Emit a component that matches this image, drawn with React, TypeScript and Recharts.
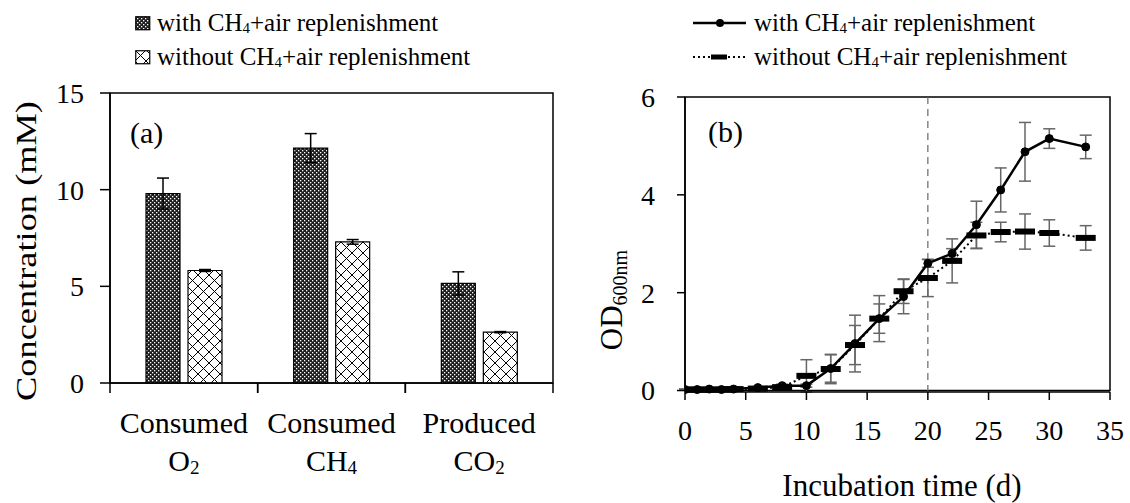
import React from "react"
import {
  Bar,
  BarChart,
  ErrorBar,
  Label,
  Line,
  LineChart,
  ReferenceArea,
  ReferenceLine,
  XAxis,
  YAxis,
} from "recharts"

const FONT = "'Liberation Serif', 'Times New Roman', serif"

// (a) gas consumption / production
const gasPrefix = ["Consumed", "Consumed", "Produced"]
const gasBase = ["O", "CH", "CO"]
const gasSub = ["2", "4", "2"]
const gasWith = [9.8, 12.15, 5.15]
const gasWithErr = [0.8, 0.75, 0.6]
const gasWithout = [5.82, 7.3, 2.63]
const gasWithoutErr = [0.05, 0.12, 0.03]
const gasTicks = [0, 5, 10, 15]

// (b) growth curve
const days = [0, 1, 2, 3, 4, 6, 8, 10, 12, 14, 16, 18, 20, 22, 24, 26, 28, 30, 33]
const odWith = [0.02, 0.02, 0.03, 0.02, 0.03, 0.06, 0.1, 0.1, 0.45, 0.96, 1.47, 1.92, 2.6, 2.8, 3.39, 4.1, 4.88, 5.15, 4.98]
const odWithErr = [0.01, 0.01, 0.01, 0.01, 0.01, 0.02, 0.03, 0.03, 0.28, 0.58, 0.47, 0.35, 0.08, 0.1, 0.48, 0.45, 0.6, 0.2, 0.24]
const odWithout = [0.02, 0.02, 0.02, 0.02, 0.03, 0.04, 0.07, 0.3, 0.44, 0.93, 1.47, 2.03, 2.3, 2.65, 3.17, 3.24, 3.25, 3.22, 3.12]
const odWithoutErr = [0.01, 0.01, 0.01, 0.01, 0.01, 0.02, 0.03, 0.33, 0.3, 0.4, 0.3, 0.25, 0.38, 0.45, 0.27, 0.2, 0.36, 0.27, 0.25]
const dayTicks = [0, 5, 10, 15, 20, 25, 30, 35]
const odTicks = [0, 2, 4, 6]

const gasData = gasBase.map((b, i) => ({
  name: b + gasSub[i],
  with: gasWith[i],
  withErr: gasWithErr[i],
  without: gasWithout[i],
  withoutErr: gasWithoutErr[i],
}))

const odData = days.map((d, i) => ({
  day: d,
  with: odWith[i],
  withErr: odWithErr[i],
  without: odWithout[i],
  withoutErr: odWithoutErr[i],
}))

const tickStyle = { fontSize: 28, fill: "#000", fontFamily: FONT }

function Patterns({ prefix }: { prefix: string }) {
  return (
    <defs>
      <pattern id={prefix + "-dense"} width="4" height="4" patternUnits="userSpaceOnUse">
        <rect width="4" height="4" fill="#1e1e1e" />
        <rect x="0" y="0" width="1.3" height="1.3" fill="#fff" />
        <rect x="2" y="2" width="1.3" height="1.3" fill="#fff" />
      </pattern>
      <pattern id={prefix + "-cross"} width="11" height="11" patternUnits="userSpaceOnUse">
        <rect width="11" height="11" fill="#fff" />
        <path d="M0,0 L11,11 M11,0 L0,11" stroke="#000" strokeWidth="1" />
      </pattern>
    </defs>
  )
}

function GasTick({ x, y, payload }: any) {
  const half = payload?.offset ?? 74
  const i = gasData.findIndex((d) => d.name === payload.value)
  return (
    <g>
      <line x1={x - half} x2={x - half} y1={y} y2={y + 10} stroke="#000" strokeWidth={1.5} />
      <line x1={x + half} x2={x + half} y1={y} y2={y + 10} stroke="#000" strokeWidth={1.5} />
      <text x={x} y={y + 50} textAnchor="middle" fontSize={30} fontFamily={FONT} fill="#000">
        {gasPrefix[i]}
      </text>
      <text x={x} y={y + 88} textAnchor="middle" fontSize={30} fontFamily={FONT} fill="#000">
        {gasBase[i]}
        <tspan fontSize={19} dy={3}>{gasSub[i]}</tspan>
      </text>
    </g>
  )
}

function DashDot({ cx, cy }: any) {
  if (cx == null || cy == null) return null
  return <rect x={cx - 10} y={cy - 3} width={20} height={6} fill="#000" />
}

function LegendA() {
  const row = (id: string, top: number, text: string) => (
    <div style={{ position: "absolute", left: 135, top, display: "flex", alignItems: "center", height: 30 }}>
      <svg width={16} height={15} style={{ marginRight: 6 }}>
        <Patterns prefix={"lg" + id} />
        <rect x={0.75} y={0.75} width={14} height={13} fill={`url(#lg${id}-${id})`} stroke="#000" strokeWidth={1.2} />
      </svg>
      <span style={{ fontFamily: FONT, fontSize: 25, color: "#000", whiteSpace: "nowrap" }}>
        {text} CH<span style={{ fontSize: 15, verticalAlign: "-2px" }}>4</span>+air replenishment
      </span>
    </div>
  )
  return (
    <>
      {row("dense", 8, "with")}
      {row("cross", 42, "without")}
    </>
  )
}

function LegendB() {
  return (
    <>
      <div style={{ position: "absolute", left: 693, top: 8, display: "flex", alignItems: "center", height: 30 }}>
        <svg width={55} height={12} style={{ marginRight: 6 }}>
          <line x1={0} x2={53} y1={6} y2={6} stroke="#000" strokeWidth={2.5} />
          <circle cx={27} cy={6} r={4} fill="#000" />
        </svg>
        <span style={{ fontFamily: FONT, fontSize: 25, color: "#000", whiteSpace: "nowrap" }}>
          with CH<span style={{ fontSize: 15, verticalAlign: "-2px" }}>4</span>+air replenishment
        </span>
      </div>
      <div style={{ position: "absolute", left: 693, top: 42, display: "flex", alignItems: "center", height: 30 }}>
        <svg width={55} height={12} style={{ marginRight: 6 }}>
          <line x1={0} x2={55} y1={6} y2={6} stroke="#000" strokeWidth={2} strokeDasharray="2 3" />
          <rect x={18} y={3.5} width={16} height={5} fill="#000" />
        </svg>
        <span style={{ fontFamily: FONT, fontSize: 25, color: "#000", whiteSpace: "nowrap" }}>
          without CH<span style={{ fontSize: 15, verticalAlign: "-2px" }}>4</span>+air replenishment
        </span>
      </div>
    </>
  )
}

function GasChart() {
  return (
    <BarChart
      width={580}
      height={503}
      data={gasData}
      margin={{ top: 93, right: 27, bottom: 20, left: 50 }}
      barCategoryGap={36}
      barGap={8}
    >
      <Patterns prefix="a" />
      <XAxis
        dataKey="name"
        height={100}
        tickLine={false}
        tickSize={0}
        tickMargin={0}
        axisLine={{ stroke: "#000", strokeWidth: 1.5 }}
        tick={<GasTick />}
        interval={0}
      />
      <YAxis
        width={60}
        domain={[0, 15]}
        ticks={gasTicks}
        tick={tickStyle}
        tickSize={10}
        tickMargin={16}
        tickLine={{ stroke: "#000", strokeWidth: 1.5 }}
        axisLine={{ stroke: "#000", strokeWidth: 1.5 }}
      >
        <Label
          content={() => (
            <text
              x={36}
              y={251}
              transform="rotate(-90, 36, 251)"
              textAnchor="middle"
              fontSize={30}
              fontFamily={FONT}
              fill="#000"
              textLength={300}
              lengthAdjust="spacingAndGlyphs"
            >
              Concentration (mM)
            </text>
          )}
        />
      </YAxis>
      <ReferenceArea y1={0} y2={15} fill="none" stroke="#000" strokeWidth={1.5} ifOverflow="visible">
        <Label
          content={({ viewBox }: any) => (
            <text x={viewBox.x + 20} y={viewBox.y + 50} fontSize={30} fontFamily={FONT} fill="#000">
              (a)
            </text>
          )}
        />
      </ReferenceArea>
      <Bar dataKey="with" fill="url(#a-dense)" stroke="#000" strokeWidth={1.2} isAnimationActive={false}>
        <ErrorBar dataKey="withErr" width={6} stroke="#000" strokeWidth={1.5} direction="y" />
      </Bar>
      <Bar dataKey="without" fill="url(#a-cross)" stroke="#000" strokeWidth={1.2} isAnimationActive={false}>
        <ErrorBar dataKey="withoutErr" width={6} stroke="#000" strokeWidth={1.5} direction="y" />
      </Bar>
    </BarChart>
  )
}

function GrowthChart() {
  return (
    <LineChart
      width={570}
      height={503}
      data={odData}
      margin={{ top: 97, right: 20, bottom: 51, left: 65 }}
    >
      <XAxis
        dataKey="day"
        type="number"
        domain={[0, 35]}
        ticks={dayTicks}
        height={60}
        tick={tickStyle}
        tickSize={8}
        tickMargin={20}
        tickLine={{ stroke: "#000", strokeWidth: 1.5 }}
        axisLine={{ stroke: "#000", strokeWidth: 1.5 }}
        allowDataOverflow
      >
        <Label
          content={() => (
            <text x={342} y={496} textAnchor="middle" fontSize={31} fontFamily={FONT} fill="#000">
              Incubation time (d)
            </text>
          )}
        />
      </XAxis>
      <YAxis
        width={60}
        domain={[0, 6]}
        ticks={odTicks}
        tick={tickStyle}
        tickSize={8}
        tickMargin={22}
        tickLine={{ stroke: "#000", strokeWidth: 1.5 }}
        axisLine={{ stroke: "#000", strokeWidth: 1.5 }}
      >
        <Label
          content={() => (
            <text
              x={62}
              y={300}
              transform="rotate(-90, 62, 300)"
              textAnchor="middle"
              fontSize={31}
              fontFamily={FONT}
              fill="#000"
            >
              OD<tspan fontSize={20} dy={5}>600nm</tspan>
            </text>
          )}
        />
      </YAxis>
      <ReferenceArea x1={0} x2={35} y1={0} y2={6} fill="none" stroke="#000" strokeWidth={1.5}>
        <Label
          content={({ viewBox }: any) => (
            <text x={viewBox.x + 23} y={viewBox.y + 45} fontSize={30} fontFamily={FONT} fill="#000">
              (b)
            </text>
          )}
        />
      </ReferenceArea>
      <ReferenceLine x={20} stroke="#666" strokeWidth={1.2} strokeDasharray="7 5" />
      <Line
        dataKey="without"
        type="linear"
        stroke="#000"
        strokeWidth={2}
        strokeDasharray="2 3"
        dot={<DashDot />}
        isAnimationActive={false}
      >
        <ErrorBar dataKey="withoutErr" width={6} stroke="#666" strokeWidth={1.5} direction="y" />
      </Line>
      <Line
        dataKey="with"
        type="linear"
        stroke="#000"
        strokeWidth={2.5}
        dot={{ r: 4, fill: "#000", stroke: "#000", strokeWidth: 1 }}
        isAnimationActive={false}
      >
        <ErrorBar dataKey="withErr" width={6} stroke="#666" strokeWidth={1.5} direction="y" />
      </Line>
    </LineChart>
  )
}

export default function App() {
  return (
    <div style={{ position: "relative", width: 1130, height: 503, background: "#fff", overflow: "hidden" }}>
      <style>{"body{margin:0}"}</style>
      <div style={{ position: "absolute", left: 0, top: 0 }}>
        <GasChart />
      </div>
      <div style={{ position: "absolute", left: 560, top: 0 }}>
        <GrowthChart />
      </div>
      <LegendA />
      <LegendB />
    </div>
  )
}
